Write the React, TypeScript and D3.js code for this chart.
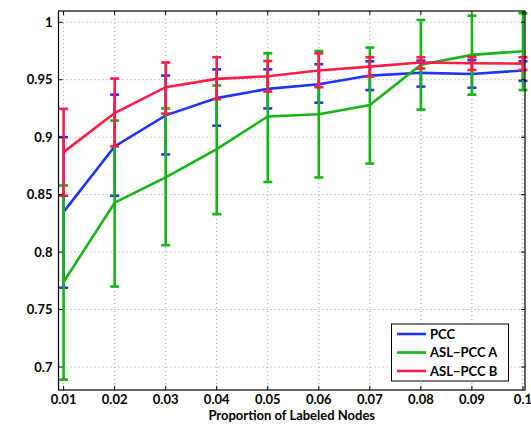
import React, { useEffect, useRef } from "react";
import * as d3 from "d3";

// proportion of labeled nodes
const xValues = [0.01, 0.02, 0.03, 0.04, 0.05, 0.06, 0.07, 0.08, 0.09, 0.1];
const xTicks = ["0.01", "0.02", "0.03", "0.04", "0.05", "0.06", "0.07", "0.08", "0.09", "0.1"];
const yTicks = [0.7, 0.75, 0.8, 0.85, 0.9, 0.95, 1];

const pccMean = [0.835, 0.892, 0.919, 0.934, 0.942, 0.946, 0.9536, 0.956, 0.955, 0.958];
const pccLow = [0.769, 0.849, 0.885, 0.91, 0.925, 0.93, 0.941, 0.944, 0.943, 0.949];
const pccHigh = [0.9, 0.937, 0.9536, 0.959, 0.959, 0.9635, 0.966, 0.9666, 0.967, 0.966];

const aMean = [0.774, 0.843, 0.865, 0.8896, 0.918, 0.92, 0.928, 0.963, 0.9716, 0.9748];
const aLow = [0.689, 0.77, 0.806, 0.833, 0.861, 0.865, 0.877, 0.924, 0.937, 0.941];
const aHigh = [0.858, 0.9144, 0.925, 0.945, 0.973, 0.975, 0.978, 1.002, 1.0057, 1.0078];

const bMean = [0.887, 0.921, 0.9435, 0.9507, 0.953, 0.958, 0.9614, 0.965, 0.9643, 0.964];
const bLow = [0.849, 0.892, 0.9205, 0.933, 0.9397, 0.9435, 0.9527, 0.9597, 0.9585, 0.9585];
const bHigh = [0.9246, 0.951, 0.965, 0.9696, 0.9663, 0.973, 0.9696, 0.9696, 0.9696, 0.9696];

const seriesNames = ["PCC", "ASL\u2212PCC A", "ASL\u2212PCC B"];
const seriesColors = ["#1f35f5", "#16b416", "#ff1c48"];

const FONT = "Lato, 'Open Sans', sans-serif";

function App() {
  const ref = useRef<SVGSVGElement>(null);

  useEffect(() => {
    const svg = d3.select(ref.current);
    svg.selectAll("*").remove();

    const left = 58.5, right = 525, top = 11, bottom = 390;
    const w = right - left, h = bottom - top;

    const x = d3.scaleLinear().domain([0.009, 0.1004]).range([left, right]);
    const y = d3.scaleLinear().domain([0.68, 1.0098]).range([bottom, top]);

    const g = svg.append("g");

    // white plot area
    g.append("rect").attr("x", left).attr("y", top).attr("width", w).attr("height", h).attr("fill", "#fff");

    // dotted grid
    g.selectAll(".xgrid")
      .data(xValues)
      .join("line")
      .attr("x1", d => x(d)).attr("x2", d => x(d))
      .attr("y1", top).attr("y2", bottom)
      .attr("stroke", "#9a9a9a").attr("stroke-width", 1)
      .attr("stroke-dasharray", "1,3");

    g.selectAll(".ygrid")
      .data(yTicks)
      .join("line")
      .attr("x1", left).attr("x2", right)
      .attr("y1", d => y(d)).attr("y2", d => y(d))
      .attr("stroke", "#9a9a9a").attr("stroke-width", 1)
      .attr("stroke-dasharray", "1,3");

    // series: blue, green, red
    const series = [
      { mean: pccMean, low: pccLow, high: pccHigh },
      { mean: aMean, low: aLow, high: aHigh },
      { mean: bMean, low: bLow, high: bHigh },
    ];
    const cap = 4.5;
    const line = d3.line<number>().x((_, i) => x(xValues[i])).y(d => y(d));

    series.forEach((s, k) => {
      const col = seriesColors[k];
      const sg = g.append("g");
      sg.append("path")
        .attr("d", line(s.mean))
        .attr("fill", "none")
        .attr("stroke", col)
        .attr("stroke-width", 2.6);
      const bars = sg.selectAll(".eb").data(xValues).join("g");
      bars.append("line")
        .attr("x1", d => x(d)).attr("x2", d => x(d))
        .attr("y1", (_, i) => y(s.low[i])).attr("y2", (_, i) => y(s.high[i]))
        .attr("stroke", col).attr("stroke-width", 2.6);
      bars.append("line")
        .attr("x1", d => x(d) - cap).attr("x2", d => x(d) + cap)
        .attr("y1", (_, i) => y(s.low[i])).attr("y2", (_, i) => y(s.low[i]))
        .attr("stroke", col).attr("stroke-width", 2.6);
      bars.append("line")
        .attr("x1", d => x(d) - cap).attr("x2", d => x(d) + cap)
        .attr("y1", (_, i) => y(s.high[i])).attr("y2", (_, i) => y(s.high[i]))
        .attr("stroke", col).attr("stroke-width", 2.6);
    });

    // axes box
    g.append("rect")
      .attr("x", left).attr("y", top).attr("width", w).attr("height", h)
      .attr("fill", "none").attr("stroke", "#000").attr("stroke-width", 1.2);

    // inner tick marks on all four sides
    const tl = 4;
    g.selectAll(".tb").data(xValues).join("line")
      .attr("x1", d => x(d)).attr("x2", d => x(d))
      .attr("y1", bottom).attr("y2", bottom - tl)
      .attr("stroke", "#000");
    g.selectAll(".tt").data(xValues).join("line")
      .attr("x1", d => x(d)).attr("x2", d => x(d))
      .attr("y1", top).attr("y2", top + tl)
      .attr("stroke", "#000");
    g.selectAll(".tl").data(yTicks).join("line")
      .attr("x1", left).attr("x2", left + tl)
      .attr("y1", d => y(d)).attr("y2", d => y(d))
      .attr("stroke", "#000");
    g.selectAll(".tr").data(yTicks).join("line")
      .attr("x1", right).attr("x2", right - tl)
      .attr("y1", d => y(d)).attr("y2", d => y(d))
      .attr("stroke", "#000");

    // tick labels
    g.selectAll(".xl").data(xValues).join("text")
      .attr("x", d => x(d)).attr("y", 404)
      .attr("text-anchor", "middle")
      .style("font-family", FONT).style("font-weight", "bold").style("font-size", "13px")
      .text((_, i) => xTicks[i]);

    g.selectAll(".yl").data(yTicks).join("text")
      .attr("x", 52.5).attr("y", d => y(d) + 4.5)
      .attr("text-anchor", "end")
      .style("font-family", FONT).style("font-weight", "bold").style("font-size", "13px")
      .text(d => d3.format("")(d));

    // axis labels
    g.append("text")
      .attr("x", (left + right) / 2).attr("y", 420)
      .attr("text-anchor", "middle")
      .style("font-family", FONT).style("font-weight", "bold").style("font-size", "13px")
      .text("Proportion of Labeled Nodes");

    svg.append("defs").append("clipPath").attr("id", "ylabclip")
      .append("rect").attr("x", 0).attr("y", 134).attr("width", 40).attr("height", 200);

    g.append("text")
      .attr("clip-path", "url(#ylabclip)")
      .attr("transform", "translate(20, 280) rotate(-90)")
      .attr("text-anchor", "start")
      .style("font-family", FONT).style("font-weight", "bold").style("font-size", "13px")
      .text("Classification Accuracy");

    // legend
    const lg = g.append("g");
    lg.append("rect")
      .attr("x", 391.5).attr("y", 324).attr("width", 117).attr("height", 57)
      .attr("fill", "#fff").attr("stroke", "#000").attr("stroke-width", 1);
    seriesNames.forEach((name, i) => {
      const ly = 334 + i * 18.5;
      lg.append("line")
        .attr("x1", 397).attr("x2", 426)
        .attr("y1", ly).attr("y2", ly)
        .attr("stroke", seriesColors[i]).attr("stroke-width", 2.6);
      lg.append("text")
        .attr("x", 430).attr("y", ly + 4.5)
        .style("font-family", FONT).style("font-weight", "bold").style("font-size", "13px")
        .text(name);
    });
  }, []);

  return (
    <svg
      ref={ref}
      width={531}
      height={425}
      style={{ position: "absolute", left: 0, top: 0, background: "#fff" }}
    />
  );
}

export default App;
